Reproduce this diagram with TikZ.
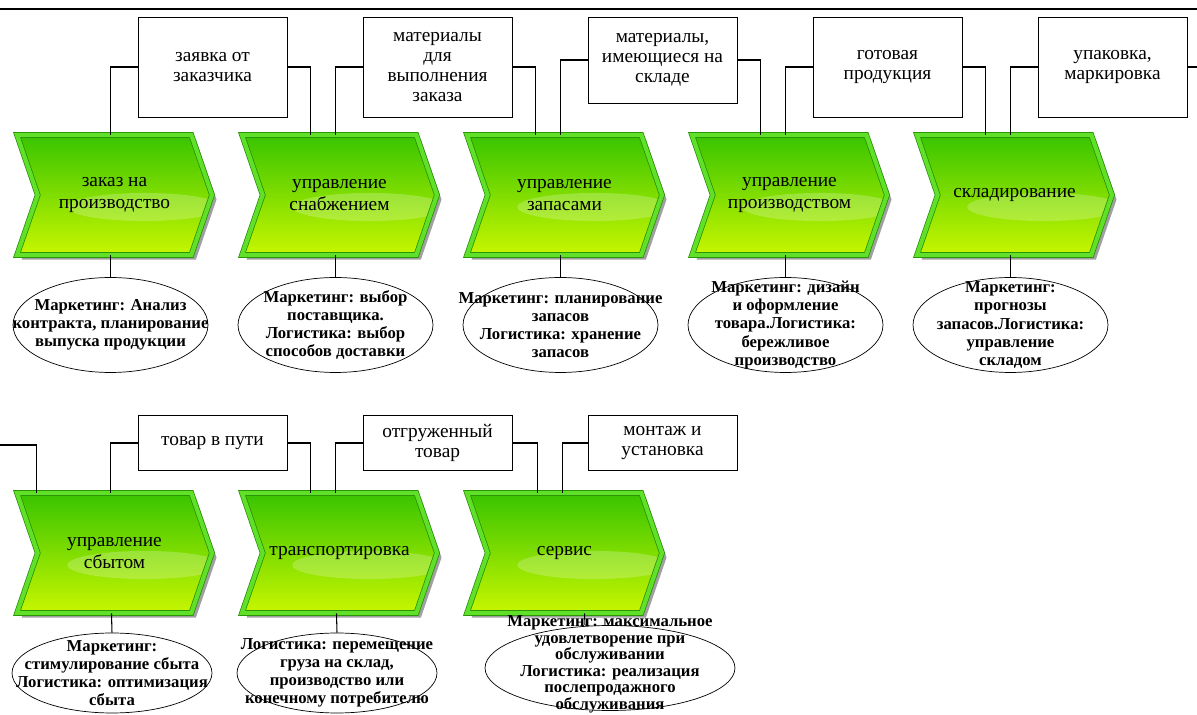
\documentclass[tikz,border=0pt]{standalone}
\usepackage{fontspec}
\setmainfont{Liberation Serif}
\usepackage{xcolor}
\usepackage{tikz}
\usetikzlibrary{shapes.symbols, shapes.geometric, shadows, calc}

\definecolor{chevtop}{RGB}{56,196,0}
\definecolor{chevbot}{RGB}{200,246,0}
\definecolor{chevrim}{RGB}{96,224,40}
\definecolor{chevline}{RGB}{36,140,0}
\definecolor{chevshade}{RGB}{160,160,160}

\begin{document}
\begin{tikzpicture}[
    x=0.02cm, y=-0.02cm,
    func/.style={
        signal, signal from=west, signal to=east,
        signal pointer angle=142,
        minimum width=3.9cm,
        minimum height=2.4cm,
        inner sep=0pt,
        align=center,
        top color=chevtop, bottom color=chevbot,
        draw=chevline, double=chevrim, double distance=2.4pt,
        drop shadow={shadow xshift=2.6pt, shadow yshift=-2.6pt, fill=chevshade, opacity=1},
        path picture={
            \fill[white, opacity=.22] ($(path picture bounding box.center)+(30,12)$) ellipse [x radius=44pt, y radius=8pt];
        },
        font=\fontsize{11}{12.5}\selectfont
    },
    info/.style={
        rectangle,
        draw,
        fill=white,
        minimum width=2.98cm,
        align=center,
        inner sep=2pt,
        font=\fontsize{11}{11.5}\selectfont
    },
    task/.style={ellipse, draw, inner sep=0pt, minimum width=3.9cm, minimum height=1.9cm},
    note/.style={align=center, inner sep=0pt, font=\bfseries\fontsize{9.5}{10.3}\selectfont},
    link/.style={line width=0.6pt}
]
\useasboundingbox (0,0) rectangle (1197,715);

% Header rule
\draw[line width=1.2pt] (0,9) -- (1197,9);

% Functions, first row
\node (c1) [func] at (114.5,195) {заказ на\\производство};
\node (c2) [func] at (339.5,195) {управление\\снабжением};
\node (c3) [func] at (564.5,195) {управление\\запасами};
\node (c4) [func] at (789.5,195) {управление\\производством};
\node (c5) [func] at (1014.5,195) {складирование};

% Objects, first row
\node (b1) [info, minimum height=2cm] at (212.5,67) {заявка от\\заказчика};
\node (b2) [info, minimum height=2cm] at (437.5,67) {материалы\\для\\выполнения\\заказа};
\node (b3) [info, minimum height=1.72cm] at (662.5,60) {материалы,\\имеющиеся на\\складе};
\node (b4) [info, minimum height=2cm] at (887.5,67) {готовая\\продукция};
\node (b5) [info, minimum height=2cm] at (1112.5,67) {упаковка,\\маркировка};
\coordinate (out1) at (1197,0);

% Tasks, first row
\node (e1) [task] at (110.5,325) [label={[note]center:{Маркетинг: Анализ\\контракта, планирование\\выпуска продукции}}] {};
\node (e2) [task] at (335.5,325) [label={[note]center:{Маркетинг: выбор\\поставщика.\\Логистика: выбор\\способов доставки}}] {};
\node (e3) [task] at (560.5,325) [label={[note]center:{Маркетинг: планирование\\запасов\\Логистика: хранение\\запасов}}] {};
\node (e4) [task] at (785.5,325) [label={[note]center:{Маркетинг: дизайн\\и оформление\\товара.Логистика:\\бережливое\\производство}}] {};
\node (e5) [task] at (1010.5,325) [label={[note]center:{Маркетинг:\\прогнозы\\запасов.Логистика:\\управление\\складом}}] {};

% Functions, second row
\node (c6) [func] at (114.5,553) {управление\\сбытом};
\node (c7) [func] at (339.5,553) {транспортировка};
\node (c8) [func] at (564.5,553) {сервис};

% Objects, second row
\coordinate (in2) at (0,445);
\node (b6) [info, minimum height=1.1cm] at (212.5,443) {товар в пути};
\node (b7) [info, minimum height=1.1cm] at (437.5,443) {отгруженный\\товар};
\node (b8) [info, minimum height=1.1cm] at (662.5,443) {монтаж и\\установка};

% Tasks, second row
\node (e6) [task, minimum width=4cm, minimum height=1.6cm] at (112,673) [label={[note]center:{Маркетинг:\\стимулирование сбыта\\Логистика: оптимизация\\сбыта}}] {};
\node (e7) [task, minimum width=4cm, minimum height=1.6cm] at (337,673) [label={[note]center:{Логистика: перемещение\\груза на склад,\\производство или\\конечному потребителю}}] {};
\node (e8) [task, minimum width=5cm, minimum height=1.7cm] at (610,668) [label={[note, font=\bfseries\fontsize{9.5}{9.4}\selectfont, yshift=2pt]center:{Маркетинг: максимальное\\удовлетворение при\\обслуживании\\Логистика: реализация\\послепродажного\\обслуживания}}] {};

% Links, first row
\draw[link] (b1.west) -| ($(c1.north)+(-4,0)$);
\draw[link] (b1.east) -| ($(c2.north)+(-29,0)$);
\draw[link] (b2.west) -| ($(c2.north)+(-4,0)$);
\draw[link] (b2.east) -| ($(c3.north)+(-29,0)$);
\draw[link] (b3.west) -| ($(c3.north)+(-4,0)$);
\draw[link] (b3.east) -| ($(c4.north)+(-29,0)$);
\draw[link] (b4.west) -| ($(c4.north)+(-4,0)$);
\draw[link] (b4.east) -| ($(c5.north)+(-29,0)$);
\draw[link] (b5.west) -| ($(c5.north)+(-4,0)$);
\draw[link] (b5.east) -- (b5.east -| out1);

\draw[link] ($(c1.south)+(-4,0)$) -- (e1.north);
\draw[link] ($(c2.south)+(-4,0)$) -- (e2.north);
\draw[link] ($(c3.south)+(-4,0)$) -- (e3.north);
\draw[link] ($(c4.south)+(-4,0)$) -- (e4.north);
\draw[link] ($(c5.south)+(-4,0)$) -- (e5.north);

% Links, second row
\draw[link] (in2) -| ($(c6.north)+(-78,0)$);
\draw[link] (b6.west) -| ($(c6.north)+(-4,0)$);
\draw[link] (b6.east) -| ($(c7.north)+(-29,0)$);
\draw[link] (b7.west) -| ($(c7.north)+(-4,0)$);
\draw[link] (b7.east) -| ($(c8.north)+(-27,0)$);
\draw[link] (b8.west) -| ($(c8.north)+(-2,0)$);

\draw[link] ($(c6.south)+(-3,0)$) -- (e6.north);
\draw[link] ($(c7.south)+(-3,0)$) -- (e7.north);
\draw[link] ($(c8.south)+(20,0)$) -- ($(e8.north)+(-25,0)$);

\end{tikzpicture}
\end{document}
